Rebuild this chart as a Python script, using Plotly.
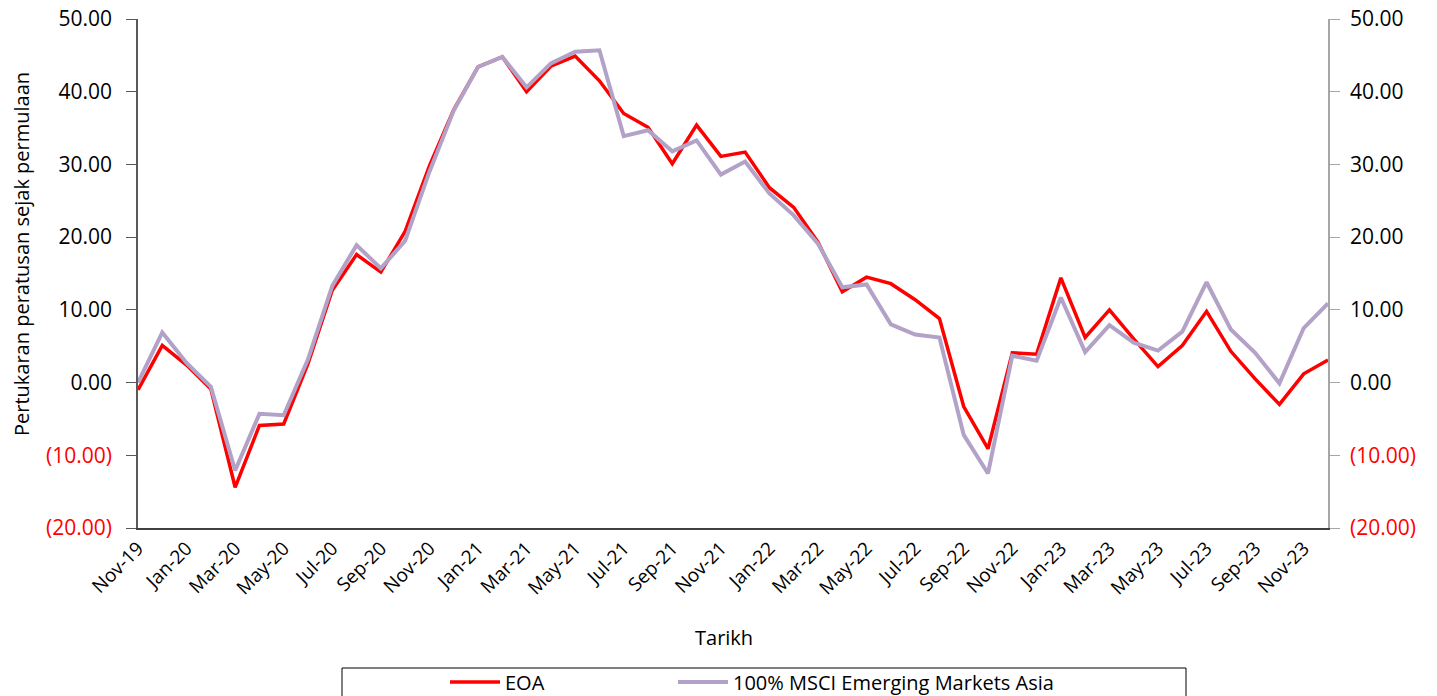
import plotly.graph_objects as go

months = ["Nov-19", "Dec-19",
          "Jan-20", "Feb-20", "Mar-20", "Apr-20", "May-20", "Jun-20",
          "Jul-20", "Aug-20", "Sep-20", "Oct-20", "Nov-20", "Dec-20",
          "Jan-21", "Feb-21", "Mar-21", "Apr-21", "May-21", "Jun-21",
          "Jul-21", "Aug-21", "Sep-21", "Oct-21", "Nov-21", "Dec-21",
          "Jan-22", "Feb-22", "Mar-22", "Apr-22", "May-22", "Jun-22",
          "Jul-22", "Aug-22", "Sep-22", "Oct-22", "Nov-22", "Dec-22",
          "Jan-23", "Feb-23", "Mar-23", "Apr-23", "May-23", "Jun-23",
          "Jul-23", "Aug-23", "Sep-23", "Oct-23", "Nov-23", "Dec-23"]

eoa = [-1.0, 5.1, 2.4, -0.9, -14.4, -5.9, -5.7, 2.6, 12.7, 17.6,
       15.2, 20.8, 29.8, 37.5, 43.4, 44.8, 40.0, 43.5, 44.9, 41.5,
       37.0, 35.1, 30.1, 35.4, 31.1, 31.7, 26.8, 24.1, 19.3, 12.5,
       14.5, 13.6, 11.4, 8.8, -3.3, -9.1, 4.1, 3.9, 14.4, 6.2,
       10.0, 6.0, 2.2, 5.1, 9.8, 4.3, 0.5, -3.0, 1.2, 3.1]

msci = [0.0, 6.9, 2.7, -0.6, -12.1, -4.3, -4.5, 3.2, 13.3, 18.9,
        15.7, 19.5, 29.0, 37.4, 43.4, 44.8, 40.6, 43.9, 45.5, 45.7,
        33.9, 34.7, 31.8, 33.3, 28.6, 30.4, 26.0, 23.0, 19.1, 13.1,
        13.5, 8.0, 6.6, 6.2, -7.2, -12.5, 3.7, 3.0, 11.7, 4.2,
        7.9, 5.5, 4.4, 7.0, 13.8, 7.3, 4.1, -0.1, 7.5, 10.9]

tick_values = [-20, -10, 0, 10, 20, 30, 40, 50]
tick_labels = ['<span style="color:#FF0000">(20.00)</span>',
               '<span style="color:#FF0000">(10.00)</span>',
               "0.00", "10.00", "20.00", "30.00", "40.00", "50.00"]

FONT = "Open Sans"

# page body adds an 8px offset; work in screen pixels and subtract it
OFF = 8
SW, SH = 1437, 696
W, H = SW - OFF, SH - OFF
L, R, T, B = 138 - OFF, 1328 - OFF, 19 - OFF, 528 - OFF
pw, ph = R - L, B - T


def px(xs):
    return (xs - OFF - L) / pw


def py(ys):
    return (B - (ys - OFF)) / ph


fig = go.Figure()
fig.add_trace(go.Scatter(x=months, y=eoa, mode="lines", name="EOA",
                         line=dict(color="#FF0000", width=3.5),
                         legend="legend"))
fig.add_trace(go.Scatter(x=months, y=msci, mode="lines",
                         name="100% MSCI Emerging Markets Asia",
                         line=dict(color="#B3A2C7", width=4),
                         legend="legend2"))
# invisible companion trace so the right-hand axis is drawn
fig.add_trace(go.Scatter(x=months, y=msci, mode="lines", yaxis="y2",
                         line=dict(color="rgba(0,0,0,0)", width=0),
                         showlegend=False, hoverinfo="skip"))

legend_common = dict(orientation="h", xanchor="left",
                     yref="container", y=1 - (682 - OFF) / H, yanchor="middle",
                     font=dict(family=FONT, size=20, color="#000000"),
                     bgcolor="rgba(0,0,0,0)", borderwidth=0, itemwidth=50)

yfont = dict(family=FONT, size=21, color="#000000")

fig.update_layout(
    width=W, height=H,
    margin=dict(l=L, r=W - R, t=T, b=H - B, autoexpand=False),
    plot_bgcolor="white", paper_bgcolor="white",
    font=dict(family=FONT, size=20, color="#000000"),
    showlegend=True,
    legend=dict(x=px(445), **legend_common),
    legend2=dict(x=px(673), **legend_common),
    xaxis=dict(type="category", range=[0, len(months) - 1], automargin=False,
               tickmode="array", tickvals=months[::2], ticktext=months[::2],
               tickangle=-45, ticks="", showgrid=False, zeroline=False,
               showline=True, linecolor="#404040", linewidth=1.5,
               ticklabeloverflow="allow",
               tickfont=dict(family=FONT, size=19, color="#000000")),
    yaxis=dict(range=[-20, 50], tickmode="array", tickvals=tick_values,
               ticktext=tick_labels, ticks="outside", ticklen=10, automargin=False,
               tickcolor="#595959", showgrid=False, zeroline=False,
               showline=True, linecolor="#595959", linewidth=1.5,
               ticklabeloverflow="allow", ticklabelstandoff=10,
               tickfont=yfont),
    yaxis2=dict(range=[-20, 50], overlaying="y", side="right", anchor="x",
                tickmode="array", tickvals=tick_values, ticktext=tick_labels,
                ticks="outside", ticklen=10, tickcolor="#A6A6A6", automargin=False,
                showgrid=False, zeroline=False, showline=True,
                linecolor="#A6A6A6", linewidth=1.5,
                ticklabeloverflow="allow", ticklabelstandoff=6,
                tickfont=yfont),
)

fig.add_annotation(text="Pertukaran peratusan sejak permulaan", textangle=-90,
                   xref="paper", yref="paper", x=px(21), y=py(254),
                   xanchor="center", yanchor="middle", showarrow=False,
                   font=dict(family=FONT, size=20, color="#000000"))
fig.add_annotation(text="Tarikh", xref="paper", yref="paper",
                   x=px(724), y=py(637), xanchor="center", yanchor="middle",
                   showarrow=False, font=dict(family=FONT, size=20, color="#000000"))
fig.add_shape(type="rect", xref="paper", yref="paper",
              x0=px(342), x1=px(1186), y0=py(668), y1=py(705),
              line=dict(color="#000000", width=1), fillcolor="rgba(0,0,0,0)",
              layer="below")

fig.write_html("out.html")
